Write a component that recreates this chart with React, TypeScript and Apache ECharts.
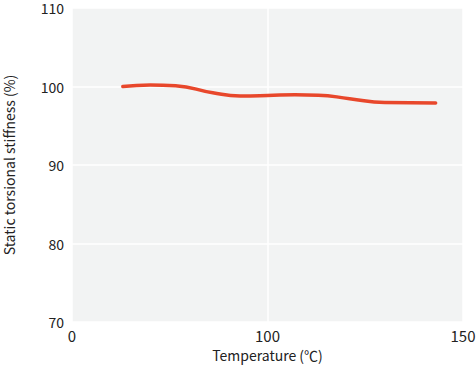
import React, { useEffect, useRef } from "react";
import * as echarts from "echarts";

const temperatures = [26, 40, 53, 72, 86, 100, 107, 113, 121, 130, 143];
const stiffness = [100.0, 100.2, 100.1, 99.2, 98.8, 98.85, 98.95, 98.9, 98.45, 97.95, 97.9];
const xTickLabels = ["0", "100", "150"];
const xTickTemps = [0, 100, 150];

// axis is piecewise: 0..100 and 100..150 occupy equal widths
function toAxis(t: number): number {
  for (let i = 0; i < xTickTemps.length - 1; i++) {
    const a = xTickTemps[i], b = xTickTemps[i + 1];
    if (t <= b || i === xTickTemps.length - 2) return i + (t - a) / (b - a);
  }
  return 0;
}

export default function App() {
  const ref = useRef<HTMLDivElement>(null);
  useEffect(() => {
    const chart = echarts.init(ref.current!, null, { renderer: "svg" });
    const font = "'Noto Sans CJK JP', 'Noto Sans', sans-serif";
    chart.setOption({
      animation: false,
      grid: {
        left: 72, right: 13, top: 8, bottom: 43, show: true,
        backgroundColor: "#f2f3f3", borderWidth: 0,
        outerBoundsMode: "none", containLabel: false,
      },
      xAxis: {
        type: "value",
        min: 0,
        max: xTickLabels.length - 1,
        interval: 1,
        name: "Temperature (℃)",
        nameLocation: "middle",
        nameGap: 26,
        nameTextStyle: { fontSize: 14, color: "#222", fontFamily: font },
        axisLine: { show: false },
        axisTick: { show: false },
        axisLabel: {
          fontSize: 15,
          color: "#222",
          fontFamily: font,
          margin: 6,
          formatter: (v: number) => xTickLabels[Math.round(v)] ?? "",
        },
        splitLine: { show: true, lineStyle: { color: "#ffffff", width: 1.5 } },
      },
      yAxis: {
        type: "value",
        min: 70,
        max: 110,
        interval: 10,
        name: "Static torsional stiffness (%)",
        nameLocation: "middle",
        nameGap: 56,
        nameTextStyle: { fontSize: 14, color: "#222", fontFamily: font },
        axisLine: { show: false },
        axisTick: { show: false },
        axisLabel: { fontSize: 14, lineHeight: 14, color: "#222", fontFamily: font, margin: 8 },
        splitLine: { show: true, lineStyle: { color: "#ffffff", width: 1.5 } },
      },
      series: [
        {
          type: "line",
          smooth: 0.5,
          showSymbol: false,
          data: temperatures.map((t, i) => [toAxis(t), stiffness[i]]),
          lineStyle: { color: "#e8472b", width: 3.5, cap: "round" },
        },
      ],
    });
    return () => chart.dispose();
  }, []);
  return <div ref={ref} style={{ width: 476, height: 365, position: "absolute", left: 0, top: 0 }} />;
}
